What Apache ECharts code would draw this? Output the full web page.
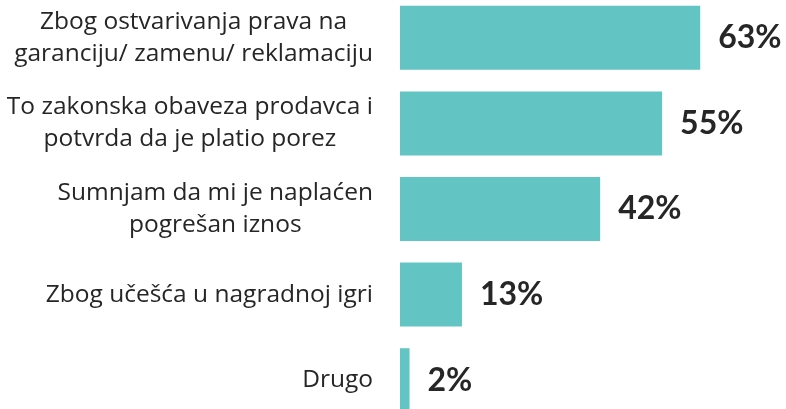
<!DOCTYPE html>
<html>
<head>
<meta charset="utf-8">
<script src="https://cdn.jsdelivr.net/npm/echarts@6/dist/echarts.min.js"></script>
<style>
  html, body { margin: 0; padding: 0; background: #fff; }
  #chart { width: 786px; height: 409px; }
</style>
</head>
<body>
<div id="chart"></div>
<script>
// answers, top to bottom
const categories = [
  'Zbog ostvarivanja prava na\ngaranciju/ zamenu/ reklamaciju',
  'To zakonska obaveza prodavca i\npotvrda da je platio porez',
  'Sumnjam da mi je naplaćen\npogrešan iznos',
  'Zbog učešća u nagradnoj igri',
  'Drugo',
];
const shares = [63, 55, 42, 13, 2];

const chart = echarts.init(document.getElementById('chart'));

chart.setOption({
  animation: false,
  grid: {
    left: 400,
    right: 0,
    top: -5,
    height: 428,
    containLabel: false,
    outerBoundsMode: 'none',
  },
  xAxis: {
    type: 'value',
    min: 0,
    max: 81,
    show: false,
  },
  yAxis: {
    type: 'category',
    inverse: true,
    data: categories,
    axisLine: { show: false },
    axisTick: { show: false },
    axisLabel: {
      margin: 27,
      align: 'right',
      formatter: (v) => v.split('\n').map((l) => '{c|' + l + '}').join('\n'),
      rich: {
        c: {
          align: 'center',
          fontFamily: 'Open Sans',
          fontSize: 24.5,
          lineHeight: 32,
          color: '#262626',
        },
      },
    },
  },
  series: [
    {
      type: 'bar',
      data: shares,
      barWidth: 64,
      itemStyle: { color: '#63C5C3' },
      label: {
        show: true,
        position: 'right',
        distance: 18,
        formatter: '{c}%',
        fontFamily: 'Lato',
        fontWeight: 'bold',
        fontSize: 32,
        color: '#262626',
      },
    },
  ],
});
</script>
</body>
</html>
